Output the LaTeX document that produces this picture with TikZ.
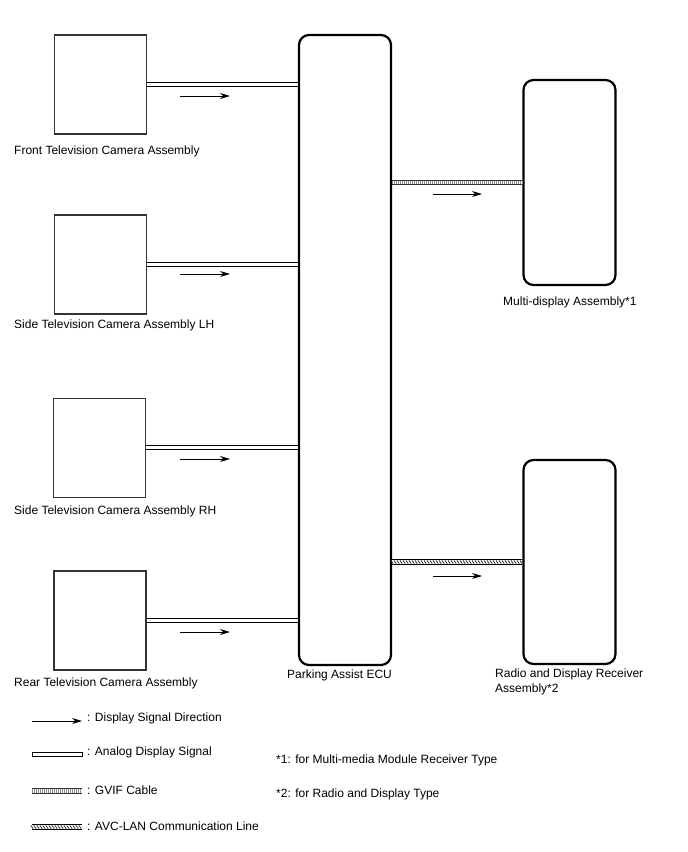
\documentclass[tikz,border=0pt]{standalone}
\usepackage{fontspec}
\setmainfont{Liberation Sans}
\usetikzlibrary{arrows.meta,decorations.markings}

\begin{document}
\begin{tikzpicture}[x=1pt,y=-1pt,>=Stealth,
cam/.style={draw=black!80,line width=1.5pt,minimum width=92pt,minimum height=99pt,inner sep=0pt},
unit/.style={draw,line width=2.2pt,rounded corners=10pt,minimum width=92pt,inner sep=0pt},
lbl/.style={anchor=west,inner sep=0pt,align=left,font=\fontsize{12}{15}\selectfont},
analog/.style={double,double distance=3.2pt,line width=1pt},
gvif/.style={line width=5.5pt,draw=black!80,postaction={draw=white,line width=3.5pt},
  postaction={draw=black!45,line width=3.5pt,dash pattern=on 1pt off 1pt}},
avc/.style={line width=5.5pt,draw=black,postaction={draw=white,line width=3.5pt},
  postaction={decorate,decoration={markings,mark=between positions 0 and 1 step 3pt with
  {\draw[line width=0.8pt,black!80] (-1.2pt,1.6pt)--(1.2pt,-1.6pt);}}}},
sig/.style={-{Stealth[length=10pt,width=6pt]},line width=0.8pt}]
\useasboundingbox (0,0) rectangle (688,852);
\node[cam] (fcam) at (100.7,84.5) {};
\node[cam] (lcam) at (100.7,264.4) {};
\node[cam] (rcam) at (99.3,447.8) {};
\node[cam] (bcam) at (100,620.5) {};
\node[unit,minimum height=630pt] (ecu) at (345,350) {};
\node[unit,minimum height=205pt] (mda) at (569.5,182.5) {};
\node[unit,minimum height=204pt] (rdr) at (569.5,562) {};
\node[lbl] (fcaml) at (14,151) {Front Television Camera Assembly};
\node[lbl] (lcaml) at (14,325) {Side Television Camera Assembly LH};
\node[lbl] (rcaml) at (14,511) {Side Television Camera Assembly RH};
\node[lbl] (bcaml) at (14,683) {Rear Television Camera Assembly};
\node[lbl] (ecul) at (287,675) {Parking Assist ECU};
\node[lbl] (mdal) at (503,302) {Multi-display Assembly*1};
\node[lbl] (rdrl) at (495,681.5) {Radio and Display Receiver\\Assembly*2};
\draw[analog] (fcam.east) -- (fcam.east -| ecu.west);
\draw[analog] (lcam.east) -- (lcam.east -| ecu.west);
\draw[analog] (rcam.east) -- (rcam.east -| ecu.west);
\draw[analog] (bcam.east) -- (bcam.east -| ecu.west);
\draw[gvif] (ecu.east |- mda.west) -- (mda.west);
\draw[avc] (ecu.east |- rdr.west) -- (rdr.west);
\draw[sig] (180,96)--(230,96);
\draw[sig] (180,274)--(230,274);
\draw[sig] (180,459)--(230,459);
\draw[sig] (180,632)--(230,632);
\draw[sig] (433,194)--(482,194);
\draw[sig] (433,576)--(482,576);
\coordinate (k1a) at (32,721);
\coordinate (k1b) at (82,721);
\coordinate (k3a) at (32,791);
\coordinate (k3b) at (82,791);
\coordinate (k4a) at (32,827);
\coordinate (k4b) at (82,827);
\draw[sig] (k1a)--(k1b);
\draw[line width=1pt] (32,752.5) rectangle (82,756.5);
\draw[gvif] (k3a)--(k3b);
\draw[avc] (k4a)--(k4b);
\node[lbl] (k1) at (87,718) {: Display Signal Direction};
\node[lbl] (k2) at (87,752) {: Analog Display Signal};
\node[lbl] (k3) at (87,790) {: GVIF Cable};
\node[lbl] (k4) at (87,826) {: AVC-LAN Communication Line};
\node[lbl] (n1) at (276,760) {*1: for Multi-media Module Receiver Type};
\node[lbl] (n2) at (276,794) {*2: for Radio and Display Type};
\end{tikzpicture}
\end{document}
